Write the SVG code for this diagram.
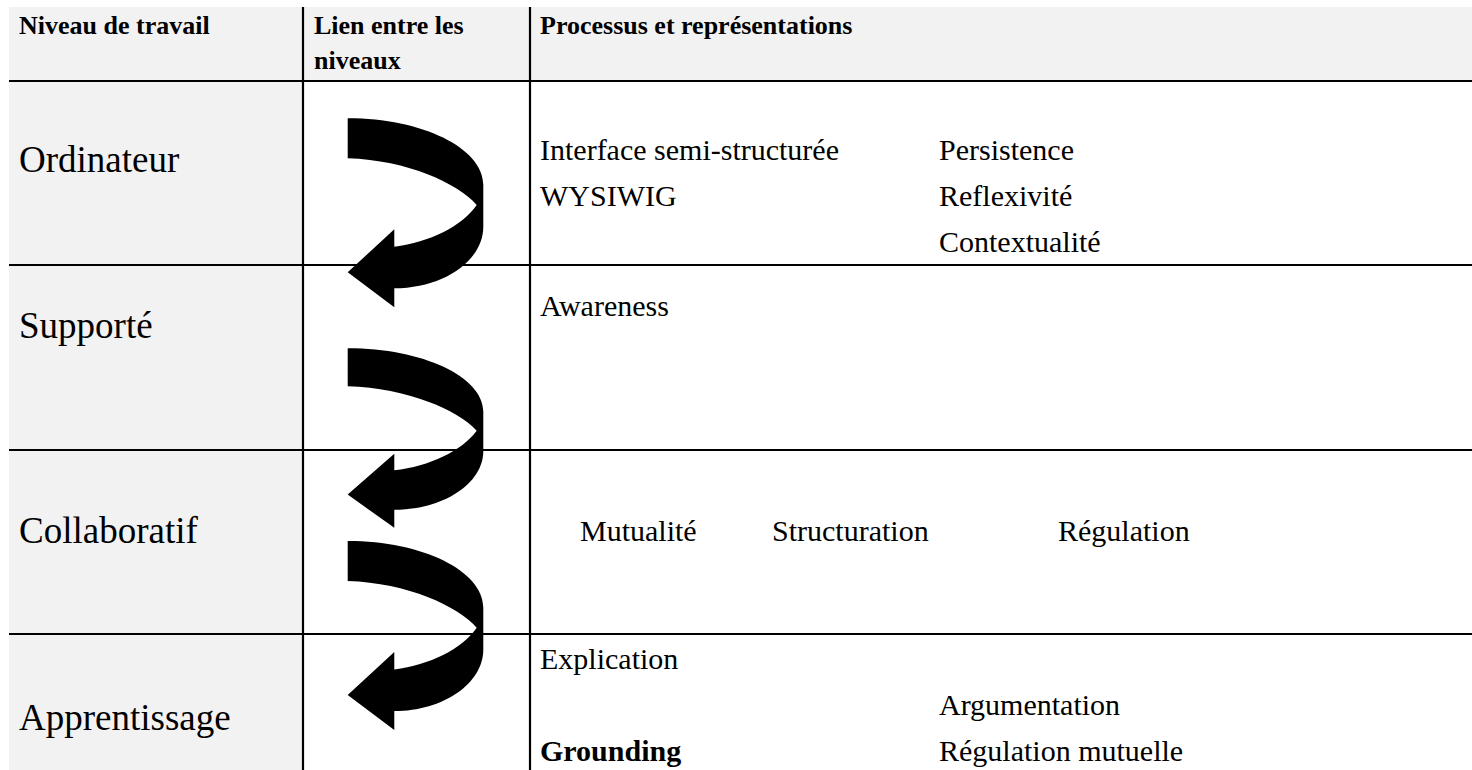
<svg xmlns="http://www.w3.org/2000/svg" width="1472" height="770" viewBox="0 0 1472 770">
<style>
.hd{font-family:"Liberation Serif","Times New Roman",serif;font-weight:bold;font-size:26px;fill:#000}
.lv{font-family:"Liberation Serif","Times New Roman",serif;font-size:37px;fill:#000}
.tx{font-family:"Liberation Serif","Times New Roman",serif;font-size:30px;fill:#000}
.txb{font-family:"Liberation Serif","Times New Roman",serif;font-size:30px;font-weight:bold;fill:#000}
.grid{stroke:#000;stroke-width:2.2;fill:none}
</style>
<defs>
<path id="uarrow" d="M0,0 C75,0 135.6,30 135.6,66.7 L135.6,108.4 C135.6,142.4 95.7,170 46.6,170 L46.6,189 L0,154 L46.6,111 L46.6,128.4 C82,124 114,108 129,86.7 C110,65 60,42 0,40 Z" fill="#000"/>
</defs>
<rect x="0" y="0" width="1472" height="770" fill="#fff"/>
<g id="backgrounds">
<rect x="9" y="7" width="1463" height="74" fill="#f2f2f2"/>
<rect x="9" y="81" width="294" height="689" fill="#f2f2f2"/>
</g>
<g id="grid" class="grid">
<line x1="9" y1="81" x2="1472" y2="81"/>
<line x1="9" y1="265" x2="1472" y2="265"/>
<line x1="9" y1="450" x2="1472" y2="450"/>
<line x1="9" y1="634" x2="1472" y2="634"/>
<line x1="303" y1="7" x2="303" y2="770"/>
<line x1="530" y1="7" x2="530" y2="770"/>
</g>
<g id="header">
<text class="hd" x="19" y="34">Niveau de travail</text>
<text class="hd" x="314" y="34">Lien entre les</text>
<text class="hd" x="314" y="69">niveaux</text>
<text class="hd" x="540" y="34">Processus et représentations</text>
</g>
<g id="level-ordinateur">
<text class="lv" x="19" y="172">Ordinateur</text>
<text class="tx" x="540" y="160">Interface semi-structurée</text>
<text class="tx" x="540" y="206">WYSIWIG</text>
<text class="tx" x="939" y="160">Persistence</text>
<text class="tx" x="939" y="206">Reflexivité</text>
<text class="tx" x="939" y="252">Contextualité</text>
</g>
<g id="level-supporte">
<text class="lv" x="19" y="338">Supporté</text>
<text class="tx" x="540" y="316">Awareness</text>
</g>
<g id="level-collaboratif">
<text class="lv" x="19" y="543">Collaboratif</text>
<text class="tx" x="580" y="541">Mutualité</text>
<text class="tx" x="772" y="541">Structuration</text>
<text class="tx" x="1058" y="541">Régulation</text>
</g>
<g id="level-apprentissage">
<text class="lv" x="19" y="730">Apprentissage</text>
<text class="tx" x="540" y="669">Explication</text>
<text class="tx" x="939" y="715">Argumentation</text>
<text class="txb" x="540" y="761">Grounding</text>
<text class="tx" x="939" y="761">Régulation mutuelle</text>
</g>
<g id="connectors">
<use href="#uarrow" transform="translate(347.7,118.3)"/>
<use href="#uarrow" transform="translate(347.7,348.3) scale(1,0.95)"/>
<use href="#uarrow" transform="translate(347.7,541)"/>
</g>
</svg>
